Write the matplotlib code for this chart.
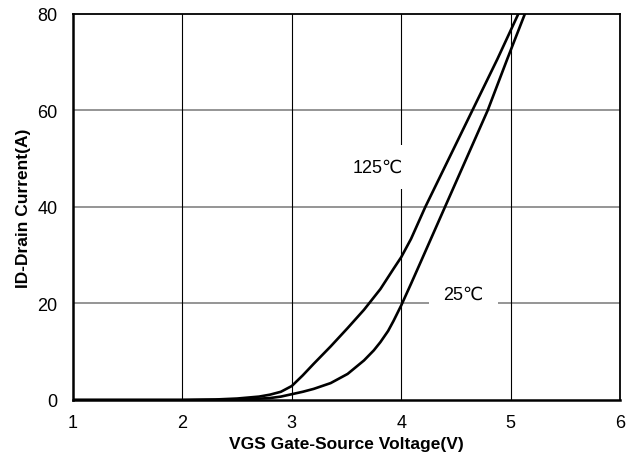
import matplotlib
matplotlib.use("Agg")
import matplotlib.pyplot as plt

plt.rcParams["font.family"] = ["Liberation Sans", "DejaVu Sans"]

# Transfer characteristics
vgs_125 = [1.0, 2.0, 2.3, 2.5, 2.7, 2.8, 2.9, 3.0, 3.1, 3.2, 3.355, 3.51, 3.66,
           3.81, 3.93, 4.0, 4.09, 4.22, 4.65, 4.88, 5.07]
id_125 = [0, 0, 0.1, 0.3, 0.7, 1.1, 1.7, 2.9, 5.1, 7.5, 11.1, 14.9, 18.7,
          23.0, 27.2, 29.6, 33.4, 40, 60, 70.7, 80]

vgs_25 = [1.0, 2.0, 2.4, 2.6, 2.8, 2.9, 3.0, 3.1, 3.2, 3.355, 3.51, 3.66,
          3.75, 3.81, 3.88, 3.93, 4.0, 4.09, 4.18, 4.4, 4.79, 4.97, 5.13]
id_25 = [0, 0, 0.05, 0.15, 0.4, 0.7, 1.2, 1.7, 2.3, 3.5, 5.4, 8.2,
         10.3, 12.0, 14.3, 16.4, 19.6, 24.1, 28.7, 40, 60, 70.7, 80]

x_ticks = [1, 2, 3, 4, 5, 6]
y_ticks = [0, 20, 40, 60, 80]

fig = plt.figure(figsize=(6.31, 4.60), dpi=100)
ax = fig.add_axes([0.1157, 0.1283, 0.8669, 0.8391])

# grid: gray horizontals, black verticals
for y in y_ticks[1:-1]:
    ax.axhline(y, color="#8c8c8c", lw=1.3, zorder=1)
for x in x_ticks[1:-1]:
    ax.axvline(x, color="black", lw=0.8, zorder=1)

ax.plot(vgs_125, id_125, color="black", lw=1.9, zorder=2, solid_joinstyle="round")
ax.plot(vgs_25, id_25, color="black", lw=1.9, zorder=2, solid_joinstyle="round")

ax.text(3.79, 48.3, "125℃", fontsize=13, ha="center", va="center", zorder=3,
        bbox=dict(boxstyle="square,pad=0.75", fc="white", ec="none"))
ax.text(4.57, 21.9, "25℃", fontsize=13, ha="center", va="center", zorder=3,
        bbox=dict(boxstyle="square,pad=0.8", fc="white", ec="none"))

ax.set_xlim(1, 6)
ax.set_ylim(0, 80)
ax.set_xticks(x_ticks)
ax.set_yticks(y_ticks)
ax.tick_params(length=0, labelsize=13)
ax.tick_params(axis="x", pad=10)
ax.tick_params(axis="y", pad=11)

for side in ["left", "bottom"]:
    ax.spines[side].set_linewidth(1.8)
for side in ["top", "right"]:
    ax.spines[side].set_linewidth(1.3)

ax.set_xlabel("VGS Gate-Source Voltage(V)", fontsize=12.5, fontweight="bold", labelpad=4)
ax.set_ylabel("ID-Drain Current(A)", fontsize=12.5, fontweight="bold", labelpad=5)

fig.savefig("out.png", dpi=100)
